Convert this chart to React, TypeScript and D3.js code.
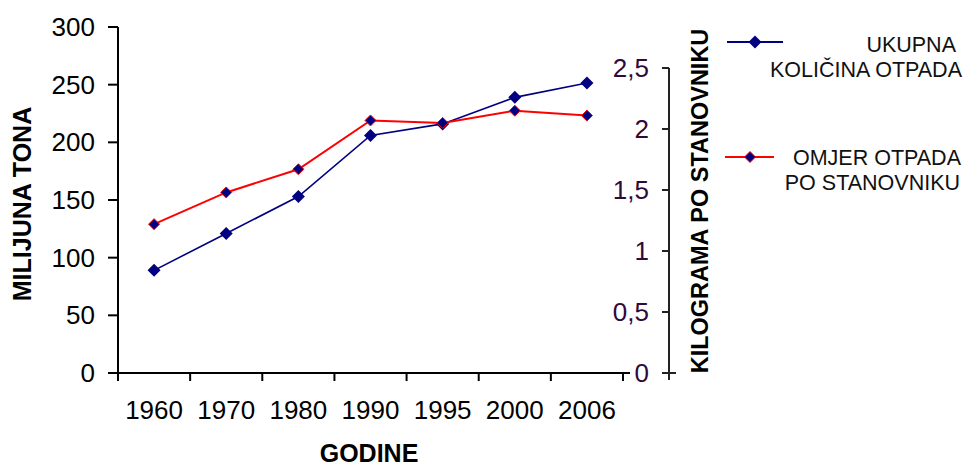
import * as d3 from 'd3';
import React from 'react';

// podaci očitani s grafikona
const years = ['1960', '1970', '1980', '1990', '1995', '2000', '2006'];
const totalWaste = [89, 121, 153, 206, 216, 239, 251.5]; // milijuna tona
const wastePerCapita = [1.22, 1.48, 1.67, 2.07, 2.05, 2.15, 2.11]; // kg po stanovniku
const leftTicks = [0, 50, 100, 150, 200, 250, 300];
const rightTicks = [0, 0.5, 1, 1.5, 2, 2.5];
const rightTickLabels = ['0', '0,5', '1', '1,5', '2', '2,5'];

const FONT = '"Liberation Sans", Arial, sans-serif';
const NAVY = '#000080';
const RED = '#ff0000';

const diamond = (cx: number, cy: number, r: number) =>
    `M${cx},${cy - r}L${cx + r},${cy}L${cx},${cy + r}L${cx - r},${cy}Z`;

const App: React.FC = () => {
    const width = 966;
    const height = 468;

    const x = d3.scaleBand<string>().domain(years).range([118, 623]);
    const yLeft = d3.scaleLinear().domain([0, 300]).range([373, 27]);
    const yRight = d3.scaleLinear().domain([0, 2.5]).range([373, 68]);
    const cx = (y: string) => (x(y) ?? 0) + x.bandwidth() / 2;

    const lineLeft = d3
        .line<number>()
        .x((d, i) => cx(years[i]))
        .y((d) => yLeft(d));
    const lineRight = d3
        .line<number>()
        .x((d, i) => cx(years[i]))
        .y((d) => yRight(d));

    const x0 = yLeft(0);
    const rightAxisX = 669;

    return (
        <svg
            width={width}
            height={height}
            style={{ position: 'absolute', left: 0, top: 0, background: '#fff' }}
            fontFamily={FONT}
        >
            {/* lijeva os */}
            <line x1={118} x2={118} y1={yLeft(300)} y2={x0 + 8} stroke="#000" strokeWidth={2} />
            {leftTicks.map((t) => (
                <g key={t}>
                    <line x1={108} x2={118} y1={yLeft(t)} y2={yLeft(t)} stroke="#000" strokeWidth={2} />
                    <text x={95} y={yLeft(t)} dy="0.35em" textAnchor="end" fontSize={26} fill="#000">
                        {t}
                    </text>
                </g>
            ))}

            {/* os x */}
            <line x1={108} x2={630} y1={x0} y2={x0} stroke="#000" strokeWidth={2} />
            {years.map((y) => (
                <line
                    key={y}
                    x1={(x(y) ?? 0) + x.bandwidth()}
                    x2={(x(y) ?? 0) + x.bandwidth()}
                    y1={x0}
                    y2={x0 + 8}
                    stroke="#000"
                    strokeWidth={2}
                />
            ))}
            {years.map((y) => (
                <text key={y} x={cx(y)} y={419} textAnchor="middle" fontSize={26} fill="#000">
                    {y}
                </text>
            ))}
            <text x={369} y={462} textAnchor="middle" fontSize={25} fontWeight="bold" fill="#000">
                GODINE
            </text>

            {/* desna os */}
            <line x1={rightAxisX} x2={rightAxisX} y1={yRight(2.5)} y2={x0 + 7} stroke="#222" strokeWidth={2} />
            {rightTicks.map((t, i) => (
                <g key={t}>
                    <line
                        x1={rightAxisX - 7}
                        x2={t === 0 ? rightAxisX + 7 : rightAxisX}
                        y1={yRight(t)}
                        y2={yRight(t)}
                        stroke="#222"
                        strokeWidth={2}
                    />
                    <text x={649} y={yRight(t)} dy="0.35em" textAnchor="end" fontSize={26} fill="#2e0a3c">
                        {rightTickLabels[i]}
                    </text>
                </g>
            ))}

            {/* naslovi osi */}
            <text
                transform="translate(31,204) rotate(-90)"
                textAnchor="middle"
                fontSize={25}
                fontWeight="bold"
                fill="#000"
            >
                MILIJUNA TONA
            </text>
            <text
                transform="translate(708,201) rotate(-90)"
                textAnchor="middle"
                fontSize={23.5}
                fontWeight="bold"
                fill="#000"
            >
                KILOGRAMA PO STANOVNIKU
            </text>

            {/* serije */}
            <path d={lineLeft(totalWaste) ?? ''} fill="none" stroke={NAVY} strokeWidth={1.6} />
            <path d={lineRight(wastePerCapita) ?? ''} fill="none" stroke={RED} strokeWidth={2} />
            {totalWaste.map((d, i) => (
                <path key={i} d={diamond(cx(years[i]), yLeft(d), 6.5)} fill={NAVY} />
            ))}
            {wastePerCapita.map((d, i) => (
                <path key={i} d={diamond(cx(years[i]), yRight(d), 5.5)} fill={NAVY} stroke={RED} strokeWidth={1} />
            ))}

            {/* legenda */}
            <line x1={727} x2={783} y1={42} y2={42} stroke={NAVY} strokeWidth={2} />
            <path d={diamond(755, 42, 6.5)} fill={NAVY} />
            <text x={956} y={52} textAnchor="end" fontSize={21.5} fill="#111">
                UKUPNA
            </text>
            <text x={962} y={77} textAnchor="end" fontSize={21.5} fill="#111">
                KOLIČINA OTPADA
            </text>
            <line x1={725} x2={774} y1={157} y2={157} stroke={RED} strokeWidth={2} />
            <path d={diamond(750, 157, 5.5)} fill={NAVY} stroke={RED} strokeWidth={1} />
            <text x={961} y={165} textAnchor="end" fontSize={21.5} fill="#111">
                OMJER OTPADA
            </text>
            <text x={960} y={190} textAnchor="end" fontSize={21.5} fill="#111">
                PO STANOVNIKU
            </text>
        </svg>
    );
};

export default App;
